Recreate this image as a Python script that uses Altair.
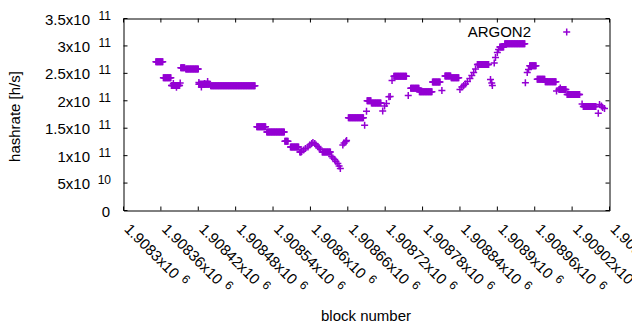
import altair as alt
import pandas as pd

FONT = "Liberation Sans"
PURPLE = "#9400d3"
W, H = 486, 192

# runs of (nearly) constant hashrate: first block, last block, value [h/s]
run_first = [1908352, 1908364, 1908377, 1908392, 1908400, 1908421, 1908440, 1908514, 1908530,
             1908559, 1908568, 1908583, 1908619, 1908661, 1908691, 1908698, 1908734, 1908761,
             1908775, 1908796, 1908816, 1908826, 1908868, 1908904, 1908912, 1908952, 1908964,
             1908977, 1908999, 1909012, 1909038]
run_last = [1908363, 1908376, 1908390, 1908398, 1908420, 1908438, 1908511, 1908528, 1908558,
            1908564, 1908581, 1908585, 1908632, 1908685, 1908697, 1908713, 1908754, 1908774,
            1908795, 1908808, 1908825, 1908838, 1908886, 1908910, 1908944, 1908962, 1908976,
            1908994, 1909010, 1909032, 1909058]
run_hashrate = [2.71e11, 2.42e11, 2.28e11, 2.60e11, 2.58e11, 2.30e11, 2.275e11, 1.526e11, 1.43e11,
                1.263e11, 1.158e11, 1.066e11, 1.066e11, 1.69e11, 2.00e11, 1.96e11, 2.448e11, 2.227e11,
                2.166e11, 2.341e11, 2.452e11, 2.419e11, 2.661e11, 2.98e11, 3.041e11, 2.638e11, 2.394e11,
                2.348e11, 2.206e11, 2.115e11, 1.896e11]

# individual points
pt_block = [1908380, 1908385, 1908391,
            1908421, 1908425, 1908430, 1908435,
            1908586, 1908589, 1908592, 1908596, 1908599, 1908602, 1908604, 1908607, 1908609,
            1908612, 1908614, 1908616,
            1908634, 1908636, 1908639, 1908641, 1908644, 1908646, 1908648,
            1908652, 1908654, 1908657, 1908658,
            1908687, 1908690,
            1908716, 1908719, 1908722,
            1908726, 1908728, 1908731, 1908757, 1908811, 1908840,
            1908843, 1908846, 1908849, 1908852, 1908856, 1908859, 1908862, 1908865,
            1908889, 1908891, 1908892,
            1908895, 1908897, 1908900, 1908902,
            1908945, 1908948, 1908950, 1908995, 1909001, 1909036, 1909062,
            1909064, 1909067, 1909069, 1909072]
pt_hashrate = [2.315e11, 2.245e11, 2.324e11,
               2.333e11, 2.251e11, 2.315e11, 2.352e11,
               1.076e11, 1.103e11, 1.130e11, 1.158e11, 1.194e11, 1.221e11, 1.240e11, 1.221e11, 1.194e11,
               1.167e11, 1.139e11, 1.112e11,
               0.984e11, 0.957e11, 0.930e11, 0.893e11, 0.857e11, 0.811e11, 0.766e11,
               1.194e11, 1.230e11, 1.258e11, 1.276e11,
               1.555e11, 1.810e11,
               1.814e11, 1.905e11, 1.950e11,
               2.073e11, 2.078e11, 2.370e11, 2.096e11, 2.187e11, 2.206e11,
               2.251e11, 2.279e11, 2.306e11, 2.352e11, 2.406e11, 2.461e11, 2.516e11, 2.579e11,
               2.388e11, 2.324e11, 2.279e11,
               2.689e11, 2.789e11, 2.880e11, 2.935e11,
               2.328e11, 2.516e11, 2.570e11, 2.178e11, 2.233e11, 1.941e11, 1.774e11,
               1.932e11, 1.905e11, 1.878e11, 1.859e11]

x_ticks = [1908300, 1908360, 1908420, 1908480, 1908540, 1908600, 1908660, 1908720,
           1908780, 1908840, 1908900, 1908960, 1909020, 1909080]
x_tick_text = ["1.9083x10", "1.90836x10", "1.90842x10", "1.90848x10", "1.90854x10", "1.9086x10",
               "1.90866x10", "1.90872x10", "1.90878x10", "1.90884x10", "1.9089x10", "1.90896x10",
               "1.90902x10", "1.90908x10"]
x_tick_power = ["6"] * len(x_ticks)

y_ticks = [0, 5e10, 1e11, 1.5e11, 2e11, 2.5e11, 3e11, 3.5e11]
y_tick_text = ["0", "5x10", "1x10", "1.5x10", "2x10", "2.5x10", "3x10", "3.5x10"]
y_tick_power = ["", "10", "11", "11", "11", "11", "11", "11"]

rows = []
for a, b, v in zip(run_first, run_last, run_hashrate):
    for blk in range(a, b + 1):
        rows.append((blk, v))
for blk, v in zip(pt_block, pt_hashrate):
    rows.append((blk, v))
df = pd.DataFrame(rows, columns=["block", "hashrate"])

xt = pd.DataFrame({"v": x_ticks, "t": x_tick_text, "p": x_tick_power})
yt = pd.DataFrame({"v": y_ticks, "t": y_tick_text, "p": y_tick_power})

xs = alt.Scale(domain=[1908300, 1909080], nice=False, zero=False)
ys = alt.Scale(domain=[0, 3.5e11], nice=False, zero=False)
X = lambda f: alt.X(f, scale=xs, axis=None)
Y = lambda f: alt.Y(f, scale=ys, axis=None)

CROSS = "M-1,0H1M0,-1V1"

points = alt.Chart(df).mark_point(shape=CROSS, filled=False, color=PURPLE, strokeWidth=1.5,
                                  size=49, opacity=1).encode(x=X("block:Q"), y=Y("hashrate:Q"))

tick_style = dict(color="black", strokeWidth=1)
xt_bot = alt.Chart(xt).mark_rule(**tick_style).encode(x=X("v:Q"), y=alt.value(H), y2=alt.value(H - 4))
xt_top = alt.Chart(xt).mark_rule(**tick_style).encode(x=X("v:Q"), y=alt.value(0), y2=alt.value(4))
yt_left = alt.Chart(yt).mark_rule(**tick_style).encode(y=Y("v:Q"), x=alt.value(0), x2=alt.value(4))
yt_right = alt.Chart(yt).mark_rule(**tick_style).encode(y=Y("v:Q"), x=alt.value(W), x2=alt.value(W - 4))

txt = dict(font=FONT, color="black")
xlab = alt.Chart(xt).mark_text(angle=45, align="left", baseline="alphabetic", fontSize=15, **txt).encode(
    x=X("v:Q"), y=alt.value(211.5), text="t:N")
xexp9 = alt.Chart(xt).transform_filter("length(datum.t) == 9").mark_text(
    angle=45, align="left", baseline="alphabetic", fontSize=12, dx=75.5, dy=-5.3, **txt).encode(
    x=X("v:Q"), y=alt.value(211.5), text="p:N")
xexp10 = alt.Chart(xt).transform_filter("length(datum.t) == 10").mark_text(
    angle=45, align="left", baseline="alphabetic", fontSize=12, dx=84, dy=-5.3, **txt).encode(
    x=X("v:Q"), y=alt.value(211.5), text="p:N")

ylab0 = alt.Chart(yt).transform_filter("datum.p == ''").mark_text(
    align="right", baseline="middle", fontSize=15, dy=1, **txt).encode(
    y=Y("v:Q"), x=alt.value(-13.5), text="t:N")
ylab = alt.Chart(yt).transform_filter("datum.p != ''").mark_text(
    align="right", baseline="middle", fontSize=15, dy=1, **txt).encode(
    y=Y("v:Q"), x=alt.value(-33.5), text="t:N")
yexp = alt.Chart(yt).transform_filter("datum.p != ''").mark_text(
    align="right", baseline="middle", fontSize=12, dy=-3, **txt).encode(
    y=Y("v:Q"), x=alt.value(-12.5), text="p:N")

one = pd.DataFrame({"k": [0]})
xtitle = alt.Chart(one).mark_text(text="block number", align="center", baseline="alphabetic",
                                  fontSize=15, **txt).encode(x=alt.value(242.5), y=alt.value(302.5))
ytitle = alt.Chart(one).mark_text(text="hashrate [h/s]", align="center", baseline="alphabetic",
                                  angle=270, fontSize=15, **txt).encode(x=alt.value(-104), y=alt.value(98))
leg_text = alt.Chart(one).mark_text(text="ARGON2", align="right", baseline="alphabetic",
                                    fontSize=15, **txt).encode(x=alt.value(407.5), y=alt.value(18.8))
leg_sym = alt.Chart(one).mark_point(shape=CROSS, filled=False, color=PURPLE, strokeWidth=1.5,
                                    size=49, opacity=1).encode(x=alt.value(443.2), y=alt.value(13.5))

chart = alt.layer(xt_bot, xt_top, yt_left, yt_right, points, xlab, xexp9, xexp10,
                  ylab0, ylab, yexp, xtitle, ytitle, leg_text, leg_sym).properties(
    width=W, height=H,
    autosize=alt.AutoSizeParams(type="none"),
    padding={"left": 115.5, "top": 10.5, "right": 22.5, "bottom": 111},
    background="white",
).configure_view(stroke="black", strokeWidth=1)

chart.save("out.html", embed_options={"renderer": "svg", "actions": False})
